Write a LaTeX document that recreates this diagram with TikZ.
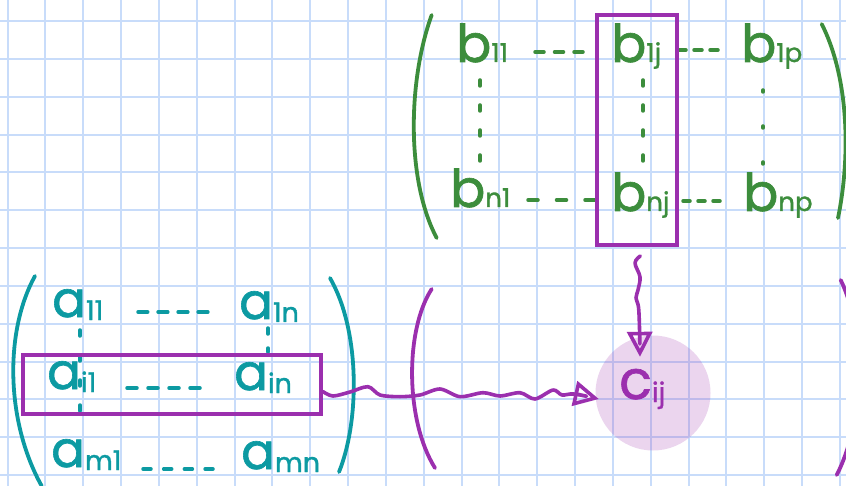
\documentclass[tikz,border=0pt]{standalone}
\usepackage{fontspec}
\setmainfont{Poppins}
\newfontfamily\hand{Poppins}[FakeBold=1.2]
\usetikzlibrary{arrows.meta}
\definecolor{gridc}{RGB}{200,220,250}
\definecolor{bgreen}{RGB}{60,141,60}
\definecolor{ateal}{RGB}{12,154,162}
\definecolor{hpurple}{RGB}{155,47,174}
\newcommand\bsub[1]{{\fontsize{26}{26}\selectfont #1}}
\newcommand\asub[1]{\raisebox{-3pt}{\fontsize{27}{27}\selectfont #1}}
\begin{document}
\begin{tikzpicture}[x=1pt,y=-1pt,
  belem/.style={anchor=base west, inner sep=0pt, text=bgreen, font=\hand\fontsize{52}{52}\selectfont},
  aelem/.style={anchor=base west, inner sep=0pt, text=ateal, font=\hand\fontsize{50}{50}\selectfont},
  celem/.style={anchor=base west, inner sep=0pt, text=hpurple, font=\hand\fontsize{54}{54}\selectfont},
  hdash/.style={line width=3.5pt, line cap=round},
  vdots/.style={line width=3.5pt, line cap=round, dash pattern=on 6pt off 19pt},
  sparse/.style={line width=3.5pt, line cap=round, dash pattern=on 2pt off 34pt},
  paren/.style={line width=3.8pt, line cap=round},
  hl/.style={draw=hpurple, line width=4pt, inner sep=0pt},
  wig/.style={draw=hpurple, line width=3.6pt, line cap=round, line join=round,
    -{Triangle[open, length=25pt, width=25pt]}}
]
\useasboundingbox (0,0) rectangle (846,486);
\clip (0,0) rectangle (846,486);
\fill[white] (0,0) rectangle (846,486);
% grid paper
\foreach \i in {0,...,22} \draw[gridc, line width=2pt] ({7.5+37.84*\i},0) -- ({7.5+37.84*\i},486);
\foreach \j in {0,...,12} \draw[gridc, line width=2pt] (0,{21+37.84*\j}) -- (846,{21+37.84*\j});

% ---------- matrix B ----------
\draw[paren, bgreen] (431.7,15) .. controls (408,80) and (406,180) .. (436.7,238);
\draw[paren, bgreen] (821.7,24) .. controls (850,80) and (850,160) .. (838,218);
\node[belem] (b11) at (456,62) {b\bsub{11}};
\node[belem] (b1j) at (611,62) {b\bsub{1j}};
\node[belem] (b1p) at (741,62) {b\bsub{1p}};
\node[belem] (bn1) at (450,207) {b\bsub{n1}};
\node[belem] (bnj) at (611,211) {b\bsub{nj}};
\node[belem] (bnp) at (743,211) {b\bsub{np}};
\draw[hdash, bgreen, dash pattern=on 9pt off 10.5pt] ([xshift=79pt,yshift=10pt]b11.base west) -- ([xshift=-28pt,yshift=10pt]b1j.base west);
\draw[hdash, bgreen, dash pattern=on 8pt off 8pt] ([xshift=67pt,yshift=12pt]b1j.base west) -- ([xshift=-23pt,yshift=12pt]b1p.base west);
\draw[hdash, bgreen, dash pattern=on 10pt off 18.5pt] ([xshift=78pt,yshift=7pt]bn1.base west) -- ([xshift=-16pt,yshift=11pt]bnj.base west);
\draw[hdash, bgreen, dash pattern=on 7pt off 8pt] ([xshift=72pt,yshift=10pt]bnj.base west) -- ([xshift=-23pt,yshift=10pt]bnp.base west);
\draw[vdots, bgreen] ([xshift=24pt,yshift=-18pt]b11.base west) -- ([xshift=30pt,yshift=46pt]bn1.base west);
\draw[vdots, bgreen] ([xshift=32pt,yshift=-18pt]b1j.base west) -- ([xshift=32pt,yshift=48pt]bnj.base west);
\draw[sparse, bgreen] ([xshift=22pt,yshift=-28pt]b1p.base west) -- ([xshift=20pt,yshift=46pt]bnp.base west);

% ---------- matrix A ----------
\draw[paren, ateal] (35,276) .. controls (5,330) and (5,420) .. (41.7,486);
\draw[paren, ateal] (330,278) .. controls (360,330) and (360,420) .. (339,472);
\node[aelem] (a11) at (52,317) {a\asub{11}};
\node[aelem] (a1n) at (239,319) {a\asub{1n}};
\node[aelem] (ai1) at (47,389) {a\asub{i1}};
\node[aelem] (ain) at (234,390) {a\asub{in}};
\node[aelem] (am1) at (51,467) {a\asub{m1}};
\node[aelem] (amn) at (241,469) {a\asub{mn}};
\draw[hdash, ateal, dash pattern=on 9.75pt off 10.3pt] ([xshift=86pt,yshift=5pt]a11.base west) -- ([xshift=-29pt,yshift=7pt]a1n.base west);
\draw[hdash, ateal, dash pattern=on 10pt off 11pt] ([xshift=80pt,yshift=1pt]ai1.base west) -- ([xshift=-34pt,yshift=2pt]ain.base west);
\draw[hdash, ateal, dash pattern=on 8pt off 12.7pt] ([xshift=92pt,yshift=-2pt]am1.base west) -- ([xshift=-28pt,yshift=0pt]amn.base west);
\draw[vdots, ateal] ([xshift=28pt,yshift=-13pt]a11.base west) -- ([xshift=29pt,yshift=44pt]am1.base west);
\draw[vdots, ateal, dash pattern=on 6pt off 14pt] ([xshift=29pt,yshift=-9pt]a1n.base west) -- ([xshift=34pt,yshift=38pt]ain.base west);

% ---------- matrix C ----------
\draw[paren, hpurple] (431.7,289) .. controls (405,330) and (405,420) .. (435,468);
\draw[paren, hpurple] (840.7,280) .. controls (865,330) and (865,420) .. (836.7,475);
\node[circle, fill=hpurple, fill opacity=0.2, minimum size=115pt, inner sep=0pt] (cc) at (653,393) {};
\node[celem] (cij) at (619,399) {c\asub{ij}};

% ---------- highlights ----------
\node[hl, minimum width=80pt, minimum height=230pt] (colB) at (637.3,130) {};
\node[hl, minimum width=297.7pt, minimum height=59pt] (rowA) at (171.9,384.5) {};

% ---------- wiggly arrows ----------
\coordinate (vs) at ([xshift=3pt,yshift=-9pt]colB.south);
\coordinate (vt) at ([xshift=-13pt,yshift=-21.5pt]cc.north);
\draw[wig] plot[smooth, tension=0.6] coordinates {(vs) (635,263) (640,277) (638,290) (636,298) (638.5,307) (639.5,328) (vt)};
\coordinate (hs) at ([yshift=-7pt]rowA.east);
\coordinate (ht) at ([xshift=3.5pt,yshift=-6pt]cc.west);
\draw[wig] plot[smooth, tension=0.5] coordinates {(hs) (333,396) (350,392) (368,386.7) (380,395) (400,396.7) (420,395) (440,389) (460,396.7) (483,392.7) (500,396) (520,392.7) (535,399) (553,390) (562,395) (574,394) (ht)};
\end{tikzpicture}
\end{document}
